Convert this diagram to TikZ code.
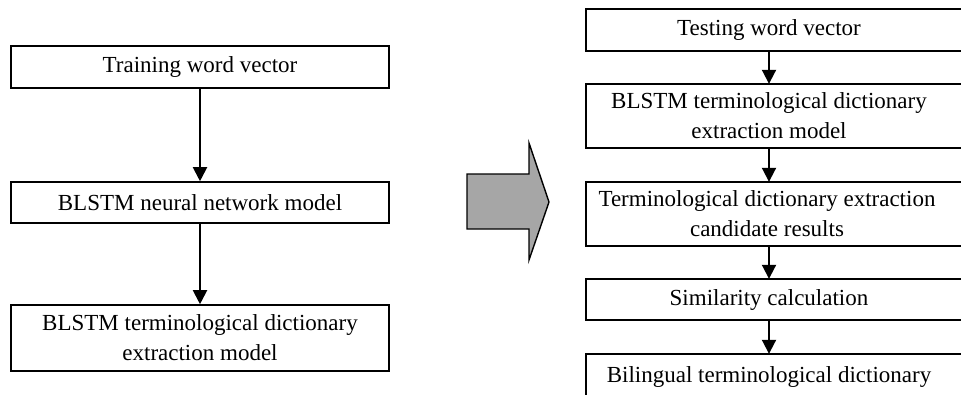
\documentclass[tikz,border=0pt]{standalone}
\usepackage{fontspec}
\setmainfont{Liberation Serif}
\usetikzlibrary{arrows.meta}
\definecolor{arrowgray}{HTML}{A6A6A6}
\tikzset{
  lbox/.style={draw, line width=1.6pt, minimum width=378pt, inner sep=0pt, align=center,
    font=\fontsize{23pt}{30pt}\selectfont},
  rtext/.style={inner sep=0pt, align=center, font=\fontsize{23pt}{30pt}\selectfont},
  rframe/.style={draw, line width=1.6pt},
  flow/.style={line width=2pt, -{Triangle[length=14pt,width=14pt]}},
  bigarrow/.style={draw, line width=1.4pt, fill=arrowgray, line join=miter}
}
\begin{document}
\begin{tikzpicture}[x=1pt,y=-1pt]
\clip (0,0) rectangle (961,394);
\useasboundingbox (0,0) rectangle (961,394);
% left column
\node[lbox, minimum height=42pt] (a1) at (200,67) {Training word vector};
\node[lbox, minimum height=41pt] (a2) at (200,202.5) {BLSTM neural network model};
\node[lbox, minimum height=66pt] (a3) at (200,338) {BLSTM terminological dictionary\\extraction model};
\draw[flow] (a1) -- (a2);
\draw[flow] (a2) -- (a3);
% big arrow
\draw[bigarrow] (467,174) -- (529,174) -- (529,143) -- (549,202) -- (529,260) -- (529,229) -- (467,229) -- cycle;
% right column
\node[rtext, minimum height=42pt] (b1) at (769,30) {Testing word vector};
\node[rtext, minimum height=64pt] (b2) at (769,116) {BLSTM terminological dictionary\\extraction model};
\node[rtext, minimum height=64pt] (b3) at (767,214) {Terminological dictionary extraction\\candidate results};
\node[rtext, minimum height=41pt] (b4) at (769,299.5) {Similarity calculation};
\node[rtext, minimum height=46pt] (b5) at (769,377) {Bilingual terminological dictionary};
\draw[rframe] (b1.north -| 586,0) rectangle (b1.south -| 975,0);
\draw[rframe] (b2.north -| 586,0) rectangle (b2.south -| 975,0);
\draw[rframe] (b3.north -| 586,0) rectangle (b3.south -| 975,0);
\draw[rframe] (b4.north -| 586,0) rectangle (b4.south -| 975,0);
\draw[rframe] (586,354) rectangle (975,420);
\draw[flow] (b1.south -| 769,0) -- (b2.north -| 769,0);
\draw[flow] (b2.south -| 769,0) -- (b3.north -| 769,0);
\draw[flow] (b3.south -| 769,0) -- (b4.north -| 769,0);
\draw[flow] (b4.south -| 769,0) -- (b5.north -| 769,0);
\end{tikzpicture}
\end{document}
